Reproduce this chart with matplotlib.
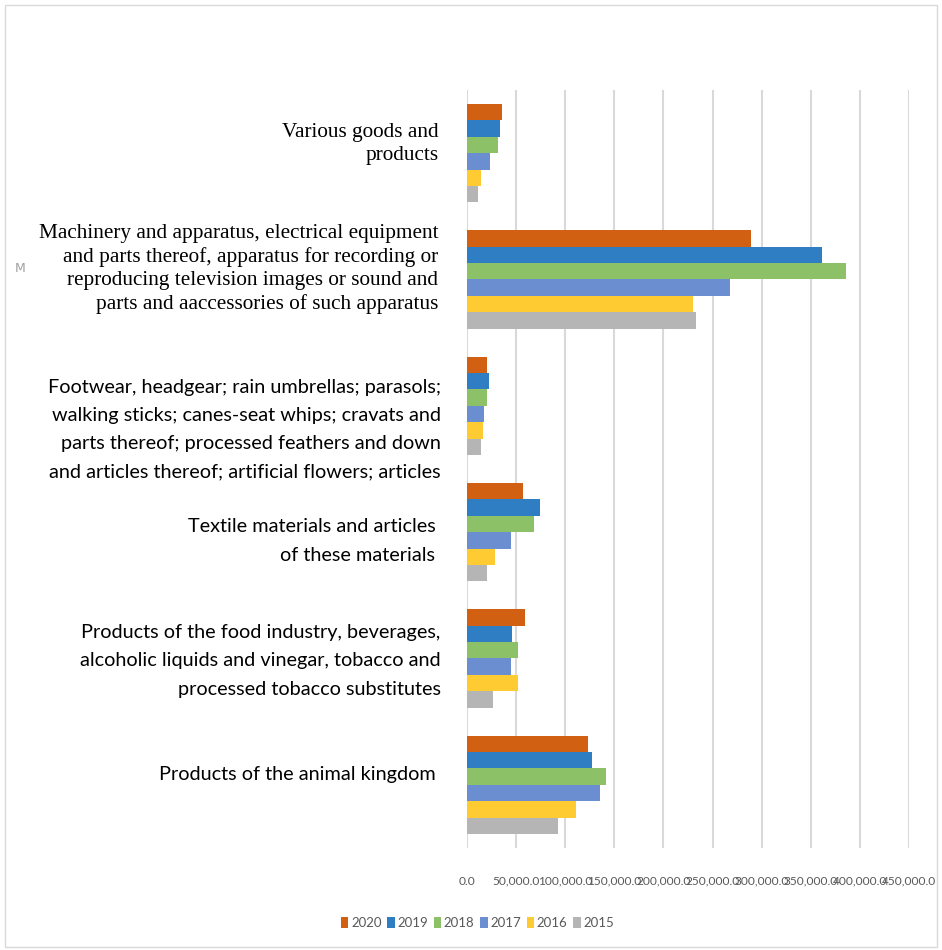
import matplotlib.pyplot as plt
import numpy as np
from matplotlib.patches import Rectangle
from matplotlib.ticker import FuncFormatter

# categories, top to bottom
categories = [
    "Various goods and\nproducts",
    "Machinery and apparatus, electrical equipment\nand parts thereof, apparatus for recording or\nreproducing television images or sound and\nparts and aaccessories of such apparatus",
    "Footwear, headgear; rain umbrellas; parasols;\nwalking sticks; canes-seat whips; cravats and\nparts thereof; processed feathers and down\nand articles thereof; artificial flowers; articles",
    "Textile materials and articles \nof these materials ",
    "Products of the food industry, beverages,\nalcoholic liquids and vinegar, tobacco and\nprocessed tobacco substitutes",
    "Products of the animal kingdom ",
]
years = ["2020", "2019", "2018", "2017", "2016", "2015"]

v2020 = [35900, 289200, 20000, 56600, 59000, 123500]
v2019 = [33900, 361100, 22400, 73900, 46100, 127300]
v2018 = [31200, 385600, 20400, 68200, 51900, 141500]
v2017 = [23400, 267400, 16900, 44800, 45100, 135100]
v2016 = [14200, 230400, 16300, 28500, 51900, 111000]
v2015 = [11200, 233200, 13900, 20000, 26800, 93000]
series = [v2020, v2019, v2018, v2017, v2016, v2015]

colors = ["#D26012", "#2F7DC2", "#8DC167", "#6A8ED0", "#FFCB33", "#B5B5B5"]
serif_label = [True, True, False, False, False, False]
label_shift = [0.07, 0.08, -0.19, -0.07, -0.02, 0.08]  # nudges of the hand-placed text boxes

fig = plt.figure(figsize=(9.42, 9.50), dpi=100)
ax = fig.add_axes([0.4958, 0.1074, 0.4692, 0.7979])

n = len(categories)
pos = np.arange(n)[::-1]  # first category at top
bar_h = 0.13
for i, (yr, vals) in enumerate(zip(years, series)):
    offs = (2.5 - i) * bar_h
    ax.barh(pos + offs, vals, height=bar_h, color=colors[i], label=yr, zorder=3)

ax.set_xlim(0, 450000)
ax.set_ylim(-0.5, n - 0.5)
ax.set_xticks(np.arange(0, 450001, 50000))
ax.xaxis.set_major_formatter(FuncFormatter(lambda v, p: f"{v:,.1f}"))
ax.tick_params(axis="x", length=0, pad=20, labelsize=8.6, labelcolor="#595959")
for t in ax.get_xticklabels():
    t.set_family("Lato")
ax.set_yticks([])
ax.grid(axis="x", color="#D9D9D9", linewidth=1.5, zorder=0)
for s in ax.spines.values():
    s.set_visible(False)

for k, lab in enumerate(categories):
    if serif_label[k]:
        ax.text(-0.065, pos[k] + label_shift[k], lab, transform=ax.get_yaxis_transform(),
                ha="right", va="center", family="Liberation Serif", fontsize=15.3,
                linespacing=1.28, color="black")
    else:
        ax.text(-0.06, pos[k] + label_shift[k], lab, transform=ax.get_yaxis_transform(),
                ha="right", va="center", family="Lato", fontsize=14.3,
                linespacing=1.8, color="black")

leg = fig.legend(loc="center", bbox_to_anchor=(0.507, 0.028), ncol=6, frameon=False,
                 handlelength=0.55, handleheight=0.9, handletextpad=0.2, columnspacing=0.45,
                 prop={"family": "Lato", "size": 9.5})
for t in leg.get_texts():
    t.set_color("#595959")

fig.text(15 / 942, 1 - 268 / 950, "M", fontsize=9, color="#A0A0A0", va="center", ha="left")
fig.patches.append(Rectangle((5 / 942, 3 / 950), 932 / 942, 942 / 950, transform=fig.transFigure,
                             fill=False, edgecolor="#D9D9D9", linewidth=1.0))

fig.savefig("out.png", dpi=100)
